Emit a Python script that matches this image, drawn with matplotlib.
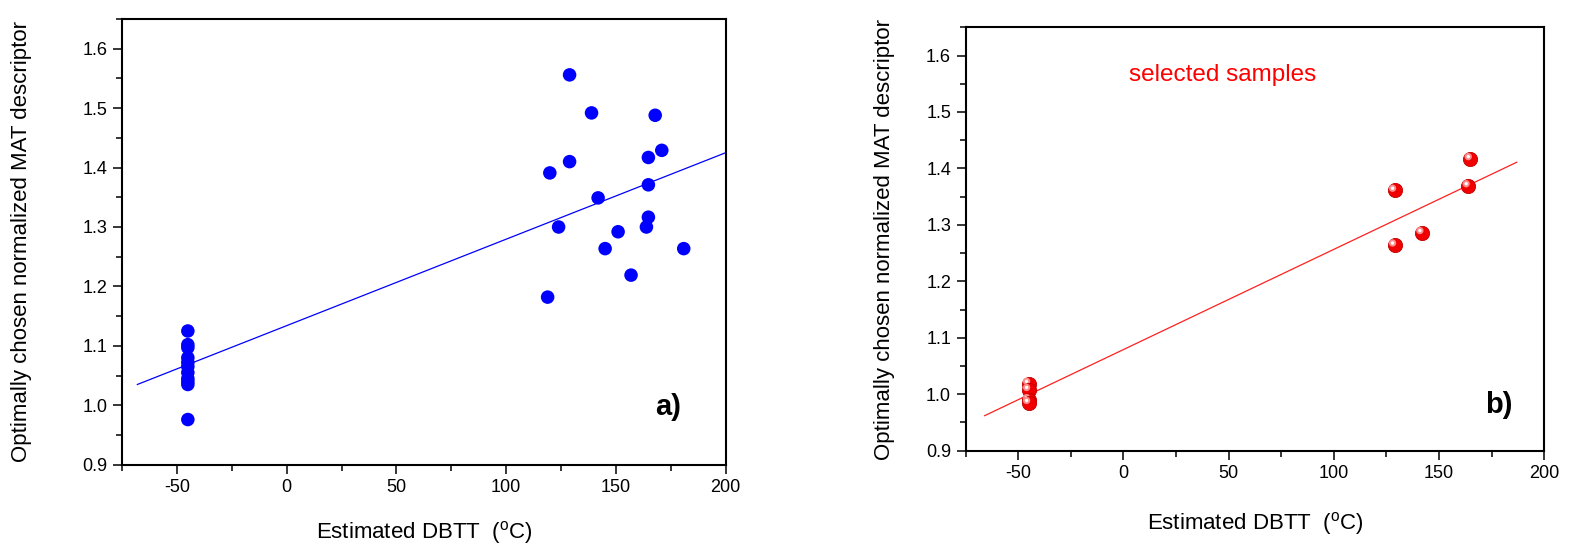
import matplotlib
matplotlib.use("Agg")
import matplotlib.pyplot as plt
from matplotlib.transforms import offset_copy

plt.rcParams['font.family'] = ['Liberation Sans', 'DejaVu Sans']
plt.rcParams['mathtext.fontset'] = 'custom'
plt.rcParams['mathtext.rm'] = 'Liberation Sans'

# ---------------- data ----------------
# panel a) all samples
a_x = [-45] * 11 + [128.9, 138.9, 167.9, 170.9, 164.8, 128.9, 119.9, 164.8, 141.9,
                    123.9, 164.8, 163.9, 151.0, 145.1, 180.9, 156.9, 118.9]
a_y = [1.125, 1.102, 1.097, 1.080, 1.072, 1.065, 1.055, 1.045, 1.040, 1.035, 0.976,
       1.556, 1.492, 1.488, 1.429, 1.417, 1.410, 1.391, 1.371, 1.349,
       1.300, 1.3165, 1.300, 1.292, 1.2636, 1.2636, 1.219, 1.182]
a_fit_x = [-68, 200]
a_fit_y = [1.035, 1.425]

# panel b) selected samples
b_x = [-45, -45, -45, -45, 129, 129, 142, 164, 165]
b_y = [1.019, 1.008, 0.990, 0.985, 1.361, 1.264, 1.286, 1.369, 1.417]
b_fit_x = [-66, 187]
b_fit_y = [0.962, 1.411]

xticks = [-50, 0, 50, 100, 150, 200]
yticks = [0.9, 1.0, 1.1, 1.2, 1.3, 1.4, 1.5, 1.6]
xlim = (-75, 200)
ylim = (0.9, 1.65)
xlabel = r'Estimated DBTT  ($^{\rm o}$C)'
ylabel = 'Optimally chosen normalized MAT descriptor'

# ---------------- figure ----------------
fig = plt.figure(figsize=(15.7, 5.43), dpi=100)
ax1 = fig.add_axes([0.0777, 0.1442, 0.3845, 0.8208])
ax2 = fig.add_axes([0.6151, 0.1700, 0.3684, 0.7797])


def style(ax, xlabelpad, ylabelpad):
    ax.set_xlim(*xlim)
    ax.set_ylim(*ylim)
    ax.set_xticks(xticks)
    ax.set_xticklabels([str(t) for t in xticks])
    ax.set_yticks(yticks)
    ax.set_yticklabels(['%.1f' % t for t in yticks])
    ax.set_xticks([-75, -25, 25, 75, 125, 175], minor=True)
    ax.set_yticks([0.95, 1.05, 1.15, 1.25, 1.35, 1.45, 1.55, 1.65], minor=True)
    ax.tick_params(which='major', direction='out', length=6.5, width=1.1,
                   labelsize=13, pad=4, top=False, right=False)
    ax.tick_params(which='minor', direction='out', length=4, width=1.1,
                   top=False, right=False)
    for sp in ax.spines.values():
        sp.set_linewidth(1.5)
    ax.set_xlabel(xlabel, fontsize=16, labelpad=xlabelpad)
    ax.set_ylabel(ylabel, fontsize=16, labelpad=ylabelpad)


# panel a
ax1.plot(a_fit_x, a_fit_y, color='#0000ff', lw=0.9, zorder=2)
ax1.scatter(a_x, a_y, s=95, c='#0000ff', edgecolors='none', zorder=3)
ax1.text(0.904, 0.129, 'a)', transform=ax1.transAxes, fontsize=21,
         fontweight='bold', ha='center', va='center')
style(ax1, 16, 36)

# panel b
ax2.plot(b_fit_x, b_fit_y, color='#ff2020', lw=0.9, zorder=2)
hl = offset_copy(ax2.transData, fig=fig, x=-1.6, y=1.6, units='points')
for i, (xx, yy) in enumerate(zip(b_x, b_y)):
    z = 3 + i * 0.01
    ax2.scatter([xx], [yy], s=105, c='#f00000', edgecolors='#c00000',
                linewidths=0.6, zorder=z)
    ax2.scatter([xx], [yy], s=28, c='#ff8a8a', edgecolors='none',
                transform=hl, zorder=z + 0.001)
    ax2.scatter([xx], [yy], s=6, c='white', edgecolors='none',
                transform=hl, zorder=z + 0.002)
ax2.text(0.283, 0.888, 'selected samples', transform=ax2.transAxes,
         fontsize=17.5, color='#ff0000', ha='left', va='center')
ax2.text(0.922, 0.108, 'b)', transform=ax2.transAxes, fontsize=21,
         fontweight='bold', ha='center', va='center')
style(ax2, 20, 22)

fig.savefig('out.png', dpi=100)
